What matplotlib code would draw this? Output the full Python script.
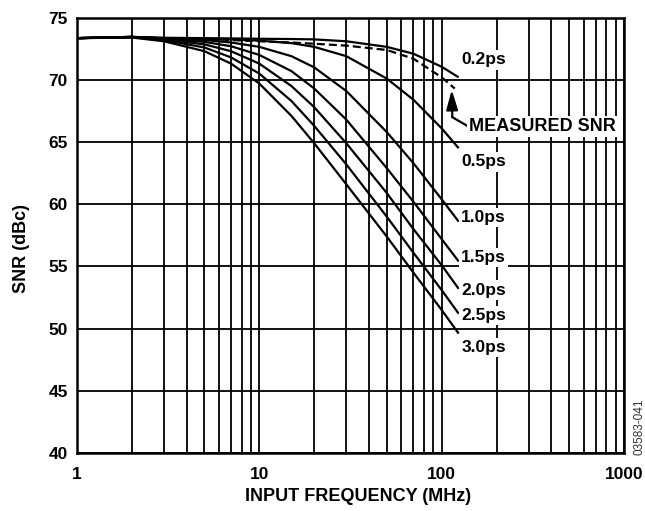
import numpy as np
import matplotlib
matplotlib.use("Agg")
import matplotlib.pyplot as plt

plt.rcParams['font.family'] = ['Liberation Sans', 'DejaVu Sans']

# input frequency (MHz) at which the curves were read
freq = [1, 2, 3, 5, 7, 10, 15, 20, 30, 50, 70, 100, 124]

# SNR (dBc) for each clock jitter value
snr_02 = [73.35, 73.45, 73.38, 73.35, 73.33, 73.3, 73.28, 73.25, 73.1, 72.65, 72.1, 71.05, 70.2]
snr_05 = [73.35, 73.45, 73.35, 73.3, 73.25, 73.15, 72.95, 72.65, 71.9, 70.1, 68.4, 66.1, 64.5]
snr_10 = [73.35, 73.45, 73.32, 73.2, 73.0, 72.65, 71.9, 71.0, 69.1, 65.8, 63.3, 60.4, 58.6]
snr_15 = [73.35, 73.45, 73.3, 73.05, 72.7, 72.0, 70.7, 69.3, 66.8, 62.9, 60.2, 57.2, 55.4]
snr_20 = [73.35, 73.44, 73.25, 72.85, 72.3, 71.3, 69.5, 67.8, 64.9, 60.9, 58.0, 55.1, 53.2]
snr_25 = [73.35, 73.42, 73.2, 72.6, 71.8, 70.5, 68.3, 66.3, 63.2, 59.0, 56.1, 53.1, 51.2]
snr_30 = [73.35, 73.4, 73.1, 72.3, 71.3, 69.7, 67.1, 64.9, 61.6, 57.4, 54.5, 51.5, 49.6]

# measured SNR (dashed)
freq_meas = [1, 2, 3, 5, 7, 10, 15, 20, 30, 50, 70, 100, 118]
snr_meas = [73.35, 73.45, 73.35, 73.3, 73.2, 73.1, 73.0, 72.9, 72.75, 72.4, 71.7, 70.2, 69.3]

curves = [snr_02, snr_05, snr_10, snr_15, snr_20, snr_25, snr_30]
labels = ["0.2ps", "0.5ps", "1.0ps", "1.5ps", "2.0ps", "2.5ps", "3.0ps"]
label_y = [71.6, 63.4, 58.9, 55.7, 53.1, 51.05, 48.5]

fig = plt.figure(figsize=(6.45, 5.11), dpi=100)
ax = fig.add_axes([0.1194, 0.1135, 0.848, 0.852])

for s in curves:
    ax.plot(freq, s, color="black", linewidth=1.6, solid_capstyle="butt", zorder=3)
ax.plot(freq_meas, snr_meas, color="black", linewidth=1.6, dashes=(3.6, 1.8), zorder=3)

ax.set_xscale("log")
ax.set_xlim(1, 1000)
ax.set_ylim(40, 75)
ax.set_yticks(np.arange(40, 76, 5))
ax.set_xticks([1, 10, 100, 1000])
ax.set_xticklabels(["1", "10", "100", "1000"])
ax.grid(True, which="both", axis="x", color="black", linewidth=1.3)
ax.grid(True, which="major", axis="y", color="black", linewidth=1.3)
ax.set_axisbelow(True)
ax.tick_params(which="both", length=0, labelsize=12.5)
ax.tick_params(axis="x", pad=10)
ax.tick_params(axis="y", pad=6.5)
for lab in ax.get_xticklabels() + ax.get_yticklabels():
    lab.set_fontweight("bold")
for sp in ax.spines.values():
    sp.set_linewidth(1.8)

for lab, y in zip(labels, label_y):
    ax.text(128, y, lab, fontsize=12.5, fontweight="bold", ha="left", va="center",
            bbox=dict(facecolor="white", edgecolor="none", pad=1.5), zorder=4)

# measured SNR callout
ax.annotate("", xy=(113.6, 69.2), xytext=(114.4, 67.0),
            arrowprops=dict(arrowstyle="-|>,head_width=0.35,head_length=1.2",
                            color="black", linewidth=1.6, shrinkA=0, shrinkB=0), zorder=4)
ax.plot([114.4, 140], [67.0, 66.25], color="black", linewidth=1.6, zorder=4)
ax.text(141, 66.25, "MEASURED SNR", fontsize=13, fontweight="bold", ha="left", va="center",
        bbox=dict(facecolor="white", edgecolor="none", pad=1.5), zorder=4)

ax.set_xlabel("INPUT FREQUENCY (MHz)", fontsize=13, fontweight="bold")
ax.set_ylabel("SNR (dBc)", fontsize=13, fontweight="bold")
ax.xaxis.set_label_coords(0.513, -0.08)
ax.yaxis.set_label_coords(-0.086, 0.47)

fig.text(0.991, 0.164, "03583-041", rotation=90, fontsize=8.5, ha="center", va="center",
         color="#333333")

fig.savefig("out.png", dpi=100)
